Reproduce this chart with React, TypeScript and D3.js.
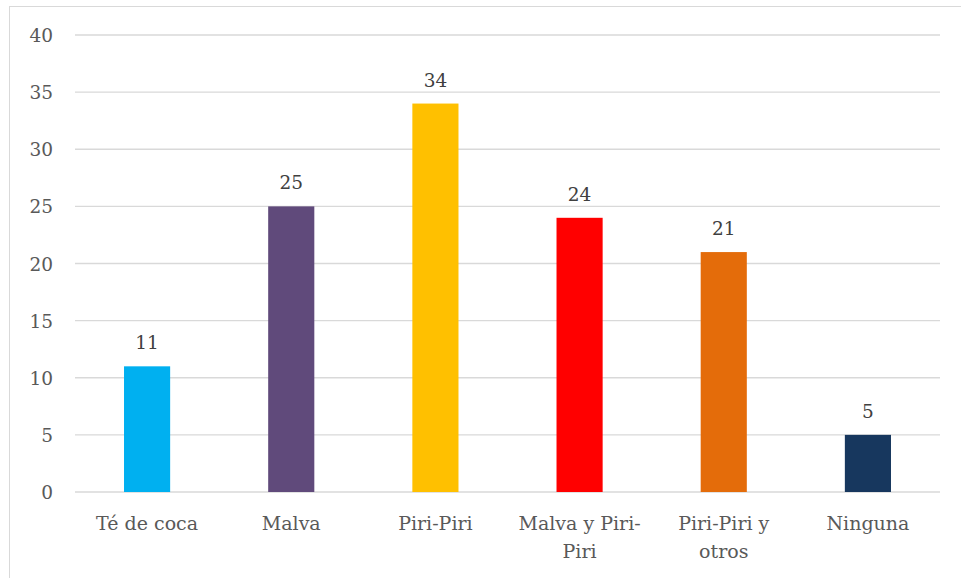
import React from "react";
import * as d3 from "d3";

const categories = ["Té de coca", "Malva", "Piri-Piri", "Malva y Piri-Piri", "Piri-Piri y otros", "Ninguna"];
const categoryLines = [["Té de coca"], ["Malva"], ["Piri-Piri"], ["Malva y Piri-", "Piri"], ["Piri-Piri y", "otros"], ["Ninguna"]];
const values = [11, 25, 34, 24, 21, 5];
const colors = ["#00B0F0", "#604A7B", "#FFC000", "#FF0000", "#E46C0A", "#17375E"];
const yTicks = [0, 5, 10, 15, 20, 25, 30, 35, 40];

const W = 961, H = 578;
const left = 75, right = 940, top = 35, bottom = 492;
const FONT = "DejaVu Serif";

export default function App() {
  const x = d3.scaleBand<string>().domain(categories).range([left, right]).paddingInner(0.68).paddingOuter(0.34);
  const y = d3.scaleLinear().domain([0, 40]).range([bottom, top]);
  return (
    <svg width={W} height={H} style={{ position: "absolute", left: 0, top: 0, display: "block" }}>
      <rect x={0} y={0} width={W} height={H} fill="#fff" />
      <rect x={9.5} y={6.5} width={W} height={H} fill="none" stroke="#D9D9D9" strokeWidth={1} />
      {yTicks.map((t) => (
        <g key={t}>
          <line x1={left} x2={right} y1={y(t)} y2={y(t)} stroke="#D9D9D9" strokeWidth={1.3} />
          <text x={53} y={y(t) + 7} textAnchor="end" fontFamily={FONT} fontSize={18.5} fill="#595959">{t}</text>
        </g>
      ))}
      {categories.map((c, i) => {
        const bx = x(c)!;
        const bw = x.bandwidth();
        const cx = bx + bw / 2;
        return (
          <g key={c}>
            <rect x={bx} y={y(values[i])} width={bw} height={y(0) - y(values[i])} fill={colors[i]} />
            <text x={cx} y={y(values[i]) - 17} textAnchor="middle" fontFamily={FONT} fontSize={18.5} fill="#404040">{values[i]}</text>
            {categoryLines[i].map((ln, j) => (
              <text key={j} x={cx} y={530 + j * 28} textAnchor="middle" fontFamily={FONT} fontSize={19} fill="#595959">{ln}</text>
            ))}
          </g>
        );
      })}
    </svg>
  );
}
